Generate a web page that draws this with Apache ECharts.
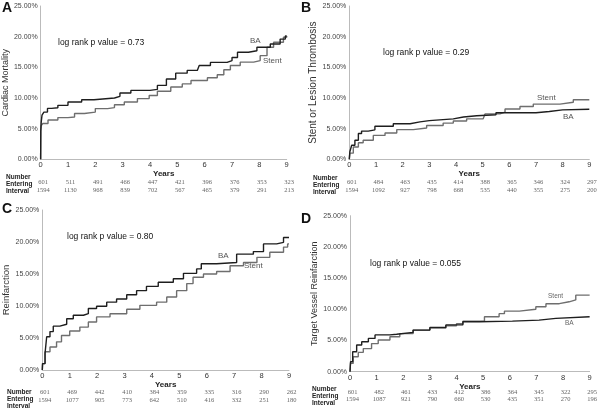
<!DOCTYPE html>
<html><head><meta charset="utf-8">
<script src="https://cdn.jsdelivr.net/npm/echarts@6/dist/echarts.min.js"></script>
<style>html,body{margin:0;padding:0;background:#fff}#c{width:600px;height:412px}</style>
</head><body><div id="c"></div>
<script>
// ---------- data ----------
const years = [0,1,2,3,4,5,6,7,8,9];
const yTickLabels = ['0.00%','5.00%','10.00%','15.00%','20.00%','25.00%'];

// Panel A: Cardiac Mortality  [years, %]
const aBA = [[0,0],[0.005,4.5],[0.02,6.0],[0.05,7.2],[0.12,7.7],[0.25,8.3],[0.4,8.4],[0.63,8.8],[1.0,9.35],[1.5,9.7],[1.95,10.0],[2.7,10.27],[2.9,10.8],[3.3,11.24],[4.0,11.4],[4.27,12.05],[4.6,13.1],[4.94,14.05],[5.36,14.5],[5.73,14.76],[5.8,15.3],[6.21,15.8],[6.82,16.1],[7.0,16.6],[7.2,17.46],[7.6,17.7],[7.91,18.27],[8.4,18.8],[8.76,19.6],[8.95,20.1],[9,20.1]];
const aStent = [[0,0],[0.005,4.8],[0.02,5.5],[0.08,5.84],[0.27,6.4],[0.63,6.8],[1.0,6.9],[1.24,7.46],[1.6,7.7],[2.0,8.27],[2.45,8.43],[2.7,8.9],[3.06,9.35],[3.54,9.9],[3.97,10.4],[4.27,11.1],[4.76,11.8],[5.18,12.3],[5.5,12.86],[6.1,13.3],[6.46,13.8],[6.7,14.6],[6.94,15.3],[7.3,15.84],[7.79,16.1],[8.03,16.9],[8.28,18.27],[8.52,19.08],[8.88,19.9],[9,20.1]];
const aNum1 = [601,511,491,466,447,421,396,376,353,323];
const aNum2 = [1594,1130,968,839,702,567,465,379,291,213];

// Panel B: Stent or Lesion Thrombosis
const bBA = [[0,0],[0.02,1.24],[0.09,2.3],[0.21,3.1],[0.34,4.2],[0.46,4.6],[0.71,4.8],[0.96,5.4],[1.65,5.8],[2.28,6.1],[2.65,6.3],[3.0,6.6],[3.9,6.9],[4.28,7.1],[4.78,7.26],[5.5,7.6],[7.0,7.8],[7.5,8.06],[8.0,8.17],[9,8.17]];
const bStent = [[0,0],[0.02,1.0],[0.15,2.0],[0.34,2.7],[0.52,3.1],[0.9,3.9],[1.34,4.3],[1.78,4.84],[2.4,5.1],[2.9,5.5],[3.52,5.9],[3.9,6.24],[4.4,6.6],[5.02,6.9],[5.09,7.4],[5.65,7.7],[5.84,8.2],[6.4,8.6],[6.9,9.0],[7.9,9.3],[8.4,9.7],[9,9.8]];
const bNum1 = [601,484,463,435,414,388,365,346,324,297];
const bNum2 = [1594,1092,927,798,668,535,440,355,275,200];

// Panel C: Reinfarction
const cBA = [[0,0],[0.01,1.0],[0.1,2.6],[0.16,5.2],[0.28,6.0],[0.4,6.85],[0.64,7.15],[0.89,8.0],[1.13,8.55],[1.5,8.8],[1.68,9.6],[1.98,9.95],[2.35,10.6],[2.71,11.1],[3.08,11.76],[3.44,12.4],[3.8,13.06],[4.23,13.7],[4.78,14.25],[5.15,15.1],[5.63,15.8],[5.8,16.6],[6.36,16.8],[7.09,18.1],[7.7,18.5],[8.07,19.7],[8.55,19.95],[8.8,20.7],[9,20.8]];
const cStent = [[0,0],[0.01,1.0],[0.1,2.85],[0.28,3.6],[0.52,4.4],[0.7,5.4],[1.0,6.1],[1.37,6.7],[1.68,7.5],[1.98,8.3],[2.47,8.8],[3.08,9.5],[3.56,10.1],[4.17,10.6],[4.54,11.4],[4.9,12.4],[5.27,13.5],[5.5,14.5],[5.88,15.0],[6.36,15.4],[6.85,16.3],[7.34,16.8],[7.83,17.6],[8.3,18.4],[8.8,19.2],[8.95,19.7],[9,19.7]];
const cNum1 = [601,469,442,410,384,359,335,316,290,262];
const cNum2 = [1594,1077,905,773,642,510,416,332,251,180];

// Panel D: Target Vessel Reinfarction
const dBA = [[0,0],[0.02,1.6],[0.1,3.2],[0.25,4.27],[0.44,4.8],[0.69,5.34],[0.94,5.9],[1.5,6.0],[1.75,6.3],[2.37,6.67],[3.0,7.1],[3.6,7.5],[4.24,8.0],[4.86,8.1],[6.1,8.27],[7.1,8.54],[7.73,8.8],[9,8.8]];
const dStent = [[0,0],[0.02,1.33],[0.12,2.4],[0.31,3.1],[0.5,3.7],[0.81,4.5],[1.06,5.07],[1.5,5.6],[1.87,6.1],[2.37,6.67],[3.0,7.0],[3.6,7.36],[4.0,7.7],[4.24,8.1],[5.05,8.8],[5.6,9.3],[5.8,9.7],[6.36,10.0],[6.98,10.4],[7.36,10.9],[7.86,11.2],[8.23,11.5],[8.48,12.27],[9,12.35]];
const dNum1 = [601,482,461,433,412,386,364,345,322,295];
const dNum2 = [1594,1087,921,790,660,530,435,351,270,196];

// ---------- layout ----------
const FONT = '"Liberation Sans Narrow","Liberation Sans",Arial,sans-serif';
const panels = [
  {grid:{left:39.3, top:6, width:247.4, height:153.3}, name:'Cardiac Mortality', nameSize:9, nameGap:28, ba:aBA, st:aStent, n1:aNum1, n2:aNum2, off:[23.4,31], yearsGap:10},
  {grid:{left:349.3, top:6, width:240, height:153.3}, name:'Stent or Lesion Thrombosis', nameSize:10, nameGap:29, ba:bBA, st:bStent, n1:bNum1, n2:bNum2, off:[23.4,31], yearsGap:10},
  {grid:{left:42.3, top:210, width:246.7, height:160}, name:'Reinfarction', nameSize:9.5, nameGap:29, ba:cBA, st:cStent, n1:cNum1, n2:cNum2, off:[22.7,30.3], yearsGap:10},
  {grid:{left:350, top:215.7, width:240.7, height:156}, name:'Target Vessel Reinfarction', nameSize:9, nameGap:29, ba:dBA, st:dStent, n1:dNum1, n2:dNum2, off:[21,28.3], yearsGap:8}
];

const grid=[], xAxis=[], yAxis=[], series=[];
panels.forEach((p,i)=>{
  grid.push(p.grid);
  xAxis.push({type:'value', gridIndex:i, min:0, max:9, interval:1,
    name:'Years', nameLocation:'middle', nameGap:p.yearsGap,
    nameTextStyle:{fontFamily:FONT, fontSize:8, fontWeight:'bold', color:'#222'},
    axisLine:{lineStyle:{color:'#bbb', width:1}}, axisTick:{show:false}, splitLine:{show:false},
    axisLabel:{margin:2, fontFamily:FONT, fontSize:7.5, color:'#333', formatter:v=>String(years[Math.round(v)])}});
  [p.n1,p.n2].forEach((arr,k)=>{
    xAxis.push({type:'value', gridIndex:i, min:0, max:9, interval:1, position:'bottom', offset:p.off[k]-4,
      axisLine:{show:false}, axisTick:{show:false}, splitLine:{show:false},
      axisLabel:{margin:0, padding:[0,0,0,5], fontFamily:'"Liberation Serif",serif', fontSize:6.5, color:'#666',
        formatter:v=>String(arr[Math.round(v)])}});
  });
  yAxis.push({type:'value', gridIndex:i, min:0, max:25, interval:5,
    name:p.name, nameLocation:'middle', nameGap:p.nameGap, nameRotate:90,
    nameTextStyle:{fontFamily:FONT, fontSize:p.nameSize, color:'#333'},
    axisLine:{show:true, lineStyle:{color:'#bbb', width:1}}, axisTick:{show:false}, splitLine:{show:false},
    axisLabel:{margin:3, fontFamily:FONT, fontSize:7, color:'#444', formatter:v=>yTickLabels[Math.round(v/5)]}});
  const xi = i*3;
  series.push({type:'line', name:'BA', xAxisIndex:xi, yAxisIndex:i, data:p.ba, step:'end', symbol:'none',
    lineStyle:{color:'#1e1e1e', width:1.4}, z:3, animation:false});
  series.push({type:'line', name:'Stent', xAxisIndex:xi, yAxisIndex:i, data:p.st, step:'end', symbol:'none',
    lineStyle:{color:'#6e6e6e', width:1.4}, z:2, animation:false});
});

function txt(x,y,t,o){return Object.assign({type:'text', x:x, y:y, style:Object.assign({text:t, fontFamily:FONT, fontSize:8.5, fill:'#111', textVerticalAlign:'middle'}, o||{})});}
const g = [];
// panel letters
[['A',2,8],['B',301,8],['C',2,209],['D',301,219]].forEach(a=>g.push(txt(a[1],a[2],a[0],{fontFamily:'"Liberation Sans",Arial,sans-serif',fontSize:14,fontWeight:'bold',fill:'#111'})));
// p values
g.push(txt(58,43,'log rank p value = 0.73'));
g.push(txt(383,53,'log rank p value = 0.29'));
g.push(txt(67,237,'log rank p value = 0.80'));
g.push(txt(370,264,'log rank p value = 0.055'));
// curve labels
const lab = {fontSize:8, fill:'#555'};
g.push(txt(250,41,'BA',lab)); g.push(txt(263,61,'Stent',lab));
g.push(txt(537,98,'Stent',lab)); g.push(txt(563,117,'BA',lab));
g.push(txt(218,256,'BA',lab)); g.push(txt(244,266,'Stent',lab));
g.push(txt(548,296,'Stent',{fontSize:6.5,fill:'#666'})); g.push(txt(565,323,'BA',{fontSize:6.5,fill:'#666'}));
// row headers
const rh = {fontSize:6.5, fontWeight:'bold', fill:'#222'};
[[6,177],[313,178],[7,392],[312,389]].forEach(r=>{
  g.push(txt(r[0],r[1],'Number',rh));
  g.push(txt(r[0],r[1]+7.3,'Entering',rh));
  g.push(txt(r[0],r[1]+14.3,'Interval',rh));
});

const chart = echarts.init(document.getElementById('c'), null, {renderer:'canvas'});
chart.setOption({animation:false, backgroundColor:'#fff', grid, xAxis, yAxis, series, graphic:g});
</script></body></html>
